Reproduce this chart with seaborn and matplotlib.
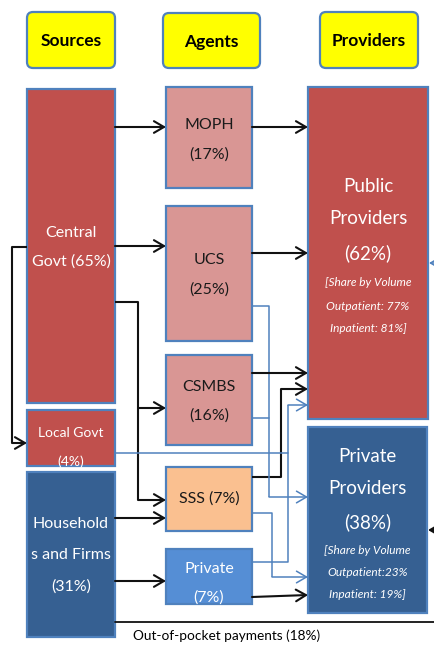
import matplotlib
matplotlib.use("Agg")
import matplotlib.pyplot as plt
import seaborn as sns
from matplotlib.patches import FancyBboxPatch, Rectangle

sns.set_theme(style="white")
plt.rcParams['font.family'] = ['Lato', 'DejaVu Sans']

# ---------------- data ----------------
columns = ["Sources", "Agents", "Providers"]
source_names = ["Central", "Local Govt", "Household"]
source_names2 = ["Govt", "", "s and Firms"]
source_shares = [65, 4, 31]
agent_names = ["MOPH", "UCS", "CSMBS", "SSS", "Private"]
agent_shares = [17, 25, 16, 7, 7]
provider_names = ["Public", "Private"]
provider_shares = [62, 38]
outpatient_share = [77, 23]
inpatient_share = [81, 19]
oop_label = "Out-of-pocket payments"
oop_share = 18

# ---------------- layout (pixel coordinates) ----------------
W, H = 435, 646
fig = plt.figure(figsize=(W / 100, H / 100), dpi=100)
ax = fig.add_axes([0, 0, 1, 1])
ax.set_xlim(0, W)
ax.set_ylim(H, 0)
ax.axis("off")

EDGE = "#4F81BD"
RED = "#C0504D"
PINK = "#D99694"
ORANGE = "#FAC090"
LBLUE = "#558ED5"
DBLUE = "#366092"

header_boxes = [(27, 12, 115, 68), (163, 13, 260, 68), (320, 12, 418, 68)]
for (x0, y0, x1, y1), name in zip(header_boxes, columns):
    p = FancyBboxPatch((x0 + 6, y0 + 6), x1 - x0 - 12, y1 - y0 - 12,
                       boxstyle="round,pad=6", fc="#FFFF00", ec=EDGE, lw=1.6)
    ax.add_patch(p)
    ax.text((x0 + x1) / 2, (y0 + y1) / 2 + 1, name, ha="center", va="center",
            fontsize=12.5, fontweight="bold", color="black")


def box(rect, fc):
    x0, y0, x1, y1 = rect
    p = Rectangle((x0, y0), x1 - x0, y1 - y0, fc=fc, ec=EDGE, lw=1.6)
    ax.add_patch(p)
    return p


def lines(rect, patch, texts, ys, color, size, **kw):
    x0, y0, x1, y1 = rect
    for s, y in zip(texts, ys):
        t = ax.text((x0 + x1) / 2, y, s, ha="center", va="center", color=color,
                    fontsize=size, **kw)
        t.set_clip_path(patch)


# sources
src_rects = [(27, 89, 115, 403), (27, 410, 115, 466), (27, 472, 115, 637)]
src_colors = [RED, RED, DBLUE]
src_text = [
    [source_names[0], f"{source_names2[0]} ({source_shares[0]}%)"],
    [source_names[1], f"({source_shares[1]}%)"],
    [source_names[2], source_names2[2], f"({source_shares[2]}%)"],
]
src_ys = [[233, 262], [433, 462], [524, 555, 587]]
src_size = [11.5, 10, 11.5]
for r, c, tx, ys, fs in zip(src_rects, src_colors, src_text, src_ys, src_size):
    p = box(r, c)
    lines(r, p, tx, ys, "white", fs)

# agents
ag_rects = [(166, 87, 252, 188), (166, 206, 252, 341), (166, 355, 252, 445),
            (166, 467, 252, 531), (166, 549, 252, 604)]
ag_colors = [PINK, PINK, PINK, ORANGE, LBLUE]
ag_ys = [[125, 155], [260, 290], [387, 416], [499], [569, 598]]
for r, c, n, s, ys in zip(ag_rects, ag_colors, agent_names, agent_shares, ag_ys):
    p = box(r, c)
    col = "white" if n == "Private" else "#1a1a1a"
    tx = [f"{n} ({s}%)"] if len(ys) == 1 else [n, f"({s}%)"]
    lines(r, p, tx, ys, col, 11.5)

# providers
pr_rects = [(308, 87, 428, 419), (308, 427, 427, 613)]
pr_colors = [RED, DBLUE]
pr_ys = [[187, 219, 253], [456, 489, 522]]
pr_sub_ys = [[283, 306, 329], [550, 572, 595]]
for r, c, n, s, ys, sys_, o, i in zip(pr_rects, pr_colors, provider_names, provider_shares,
                                      pr_ys, pr_sub_ys, outpatient_share, inpatient_share):
    p = box(r, c)
    lines(r, p, [n, "Providers", f"({s}%)"], ys, "white", 13.5)
    sepo = " " if n == "Public" else ""
    lines(r, p, ["[Share by Volume", f"Outpatient:{sepo}{o}%", f"Inpatient: {i}%]"],
          sys_, "white", 8.6, style="italic")

# ---------------- flows ----------------
BLK = "#111111"


def flow(pts, color=BLK, lw=1.5, head=True):
    xs = [p[0] for p in pts]
    ys = [p[1] for p in pts]
    if head:
        ax.plot(xs[:-1], ys[:-1], color=color, lw=lw, solid_capstyle="butt")
        ax.annotate("", xy=pts[-1], xytext=pts[-2],
                    arrowprops=dict(arrowstyle="->,head_length=0.6,head_width=0.35",
                                    color=color, lw=lw, shrinkA=0, shrinkB=0))
    else:
        ax.plot(xs, ys, color=color, lw=lw)


# black flows
flow([(115, 127), (166, 127)])
flow([(115, 246), (166, 246)])
flow([(115, 302), (138, 302), (138, 408), (166, 408)])
flow([(138, 408), (138, 500), (166, 500)])
flow([(27, 247), (12, 247), (12, 443), (27, 443)])
flow([(115, 518), (166, 518)])
flow([(115, 581), (166, 581)])
flow([(252, 127), (308, 127)])
flow([(252, 253), (308, 253)])
flow([(252, 373), (308, 373)])
flow([(252, 477), (281, 477), (281, 389), (308, 389)])
flow([(252, 597), (308, 595)])

# blue flows
flow([(252, 306), (269, 306), (269, 497), (308, 497)], color=EDGE, lw=1.1)
flow([(252, 418), (269, 418)], color=EDGE, lw=1.1, head=False)
flow([(115, 453), (288, 453)], color=EDGE, lw=1.1, head=False)
flow([(252, 562), (288, 562), (288, 405), (308, 405)], color=EDGE, lw=1.1)
flow([(252, 513), (272, 513), (272, 577), (308, 577)], color=EDGE, lw=1.1)

# inflows from the right edge
flow([(435, 263), (429, 263)], color=EDGE, lw=1.1)
flow([(435, 530), (428, 530)])

# out-of-pocket
ax.plot([115, 435], [622, 622], color=BLK, lw=1.3)
ax.text(227, 636, f"{oop_label} ({oop_share}%)", ha="center", va="center",
        fontsize=9.8, color="black")

fig.savefig("out.png", dpi=100)
